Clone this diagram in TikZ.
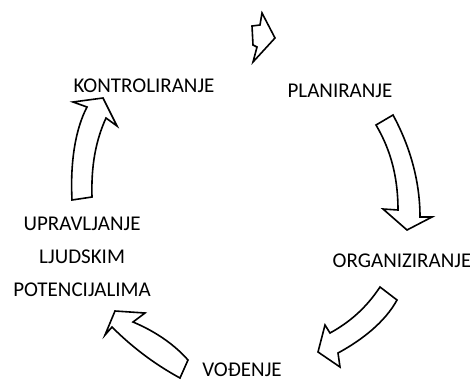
\documentclass[tikz,border=0pt]{standalone}
\usepackage{fontspec}
\setmainfont{Carlito}
\usepackage{tikz}
\usetikzlibrary{positioning}
\tikzset{
  oznaka/.style={font=\fontsize{21}{33}\selectfont, inner sep=0pt, anchor=base},
  blokstrelica/.style={draw=black, fill=white, line width=1.6pt, line join=miter}
}
\begin{document}
\begin{tikzpicture}[x=1pt, y=-1pt]
        % okvir slike
        \useasboundingbox (0,0) rectangle (470,381);
        % nazivi faza
        \node[oznaka] (kontrola) at (144,92) {KONTROLIRANJE};
        \node[oznaka] (planiranje) at (340,97) {PLANIRANJE};
        \node[oznaka] (organiziranje) at (402,267) {ORGANIZIRANJE};
        \node[oznaka] (vodjenje) at (242,376) {VOĐENJE};
        \node[oznaka, anchor=center, align=center] (ljudi) at (82,257) {UPRAVLJANJE\\LJUDSKIM\\POTENCIJALIMA};
        % strelice izmedju faza
        \draw[blokstrelica] (262,13) -- (275,38) -- (253,62) -- (257,47) -- (253,45) -- (252,26) -- (260,25) -- cycle;
        \draw[blokstrelica] (376,125) -- (393,115) .. controls (412,150) and (420,185) .. (420,217) -- (432,217) -- (407,230) -- (383,209) -- (398,210) .. controls (398,180) and (392,152) .. (376,125) -- cycle;
        \draw[blokstrelica] (380,287) .. controls (366,308) and (350,322) .. (330,333) -- (325,325) -- (318,352) -- (340,367) -- (338,353) .. controls (362,340) and (385,322) .. (397,300) -- cycle;
        \draw[blokstrelica] (188,360) .. controls (172,342) and (152,330) .. (133,322) -- (145,313) -- (115,311) -- (105,335) -- (112,327) .. controls (135,350) and (158,366) .. (180,378) -- cycle;
        \draw[blokstrelica] (72,200) .. controls (70,160) and (76,128) .. (87,107) -- (73,102) -- (103,98) -- (117,126) -- (106,118) .. controls (96,140) and (91,165) .. (92,197) -- cycle;
\end{tikzpicture}
\end{document}
